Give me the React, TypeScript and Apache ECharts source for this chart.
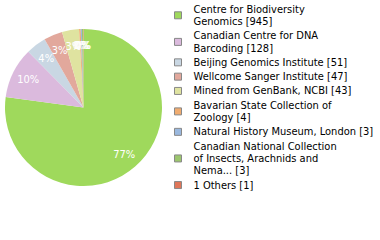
import React, { useEffect, useRef } from "react";
import * as echarts from "echarts";

const categories = [
  "Centre for Biodiversity Genomics",
  "Canadian Centre for DNA Barcoding",
  "Beijing Genomics Institute",
  "Wellcome Sanger Institute",
  "Mined from GenBank, NCBI",
  "Bavarian State Collection of Zoology",
  "Natural History Museum, London",
  "Canadian National Collection of Insects, Arachnids and Nema...",
  "1 Others",
];
const counts = [945, 128, 51, 47, 43, 4, 3, 3, 1];
const colors = [
  "#9fd95c",
  "#dbbadd",
  "#c9d7e3",
  "#e2a89c",
  "#dfe3a0",
  "#f0ac70",
  "#9ab8de",
  "#9cc66e",
  "#e07659",
];

const FONT = "'DejaVu Sans Condensed', 'DejaVu Sans', sans-serif";

function wrap(name: string, limit: number): string {
  const words = name.split(" ");
  const lines: string[] = [];
  let cur = "";
  for (const w of words) {
    const next = cur ? cur + " " + w : w;
    if (next.length > limit && cur) {
      lines.push(cur);
      cur = w;
    } else {
      cur = next;
    }
  }
  if (cur) lines.push(cur);
  return lines.join("\n");
}

export default function App() {
  const ref = useRef<HTMLDivElement>(null);
  useEffect(() => {
    document.body.style.margin = "0";
    if (!ref.current) return;
    const chart = echarts.init(ref.current, undefined, { renderer: "svg" });
    const total = counts.reduce((a, b) => a + b, 0);
    const data = categories.map((c, i) => ({
      name: c,
      value: counts[i],
      itemStyle: { color: colors[i] },
    }));
    chart.setOption({
      animation: false,
      backgroundColor: "#ffffff",
      legend: {
        orient: "vertical",
        left: 174,
        top: 3,
        padding: 0,
        itemWidth: 7,
        itemHeight: 7,
        itemGap: 2,
        icon: "rect",
        itemStyle: { borderColor: "#888888", borderWidth: 1 },
        data: categories,
        formatter: (name: string) => {
          const i = categories.indexOf(name);
          return wrap(name, 30) + " [" + counts[i] + "]";
        },
        textStyle: {
          fontFamily: FONT,
          fontSize: 11,
          color: "#000000",
          lineHeight: 12.3,
          padding: [0, 0, 0, 7],
        },
      },
      series: [
        {
          type: "pie",
          center: [83.5, 107.5],
          radius: [0, 78.5],
          startAngle: 90,
          clockwise: true,
          label: { show: false },
          labelLine: { show: false },
          emphasis: { disabled: true },
          data,
        },
        {
          type: "pie",
          center: [83.5, 107.5],
          radius: [39, 78.5],
          startAngle: 90,
          clockwise: true,
          silent: true,
          avoidLabelOverlap: false,
          minShowLabelAngle: 0,
          labelLayout: { hideOverlap: false },
          itemStyle: { color: "rgba(0,0,0,0)" },
          label: {
            show: true,
            position: "inside",
            color: "#ffffff",
            fontFamily: FONT,
            fontSize: 11,
            formatter: (p: any) => Math.floor((p.value / total) * 100) + "%",
          },
          labelLine: { show: false },
          emphasis: { disabled: true },
          data: categories.map((c, i) => ({
            name: c,
            value: counts[i],
            itemStyle: { color: "rgba(0,0,0,0)" },
          })),
        },
      ],
    });
    return () => chart.dispose();
  }, []);
  return <div ref={ref} style={{ width: 380, height: 240 }} />;
}
